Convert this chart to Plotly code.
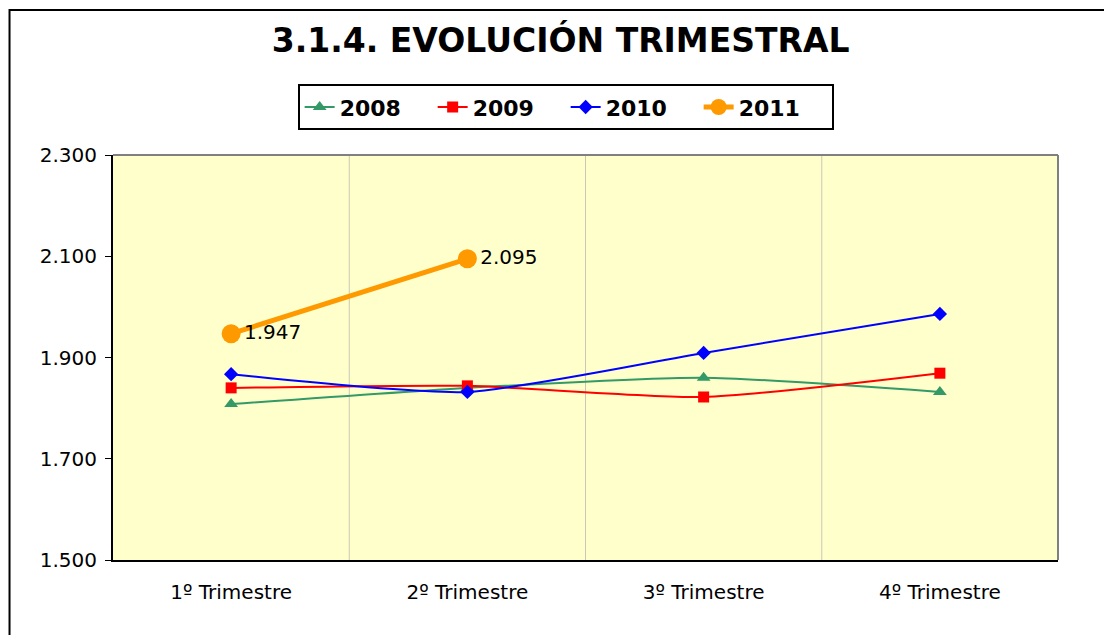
import plotly.graph_objects as go

categories = ["1º Trimestre", "2º Trimestre", "3º Trimestre", "4º Trimestre"]
v2008 = [1808, 1840, 1860, 1832]
v2009 = [1840, 1844, 1822, 1869]
v2010 = [1867, 1832, 1909, 1986]
v2011 = [1947, 2095]
y_ticks = [1500, 1700, 1900, 2100, 2300]

FONT = "DejaVu Sans, Verdana, sans-serif"

fig = go.Figure()
fig.add_trace(go.Scatter(
    x=categories, y=v2008, name="2008", mode="lines+markers",
    line=dict(color="#339966", width=2, shape="spline", smoothing=0.6),
    marker=dict(symbol="triangle-up", size=12, color="#339966")))
fig.add_trace(go.Scatter(
    x=categories, y=v2009, name="2009", mode="lines+markers",
    line=dict(color="#FF0000", width=2, shape="spline", smoothing=0.6),
    marker=dict(symbol="square", size=11, color="#FF0000")))
fig.add_trace(go.Scatter(
    x=categories, y=v2010, name="2010", mode="lines+markers",
    line=dict(color="#0000FF", width=2, shape="spline", smoothing=0.6),
    marker=dict(symbol="diamond", size=11, color="#0000FF")))
fig.add_trace(go.Scatter(
    x=categories[:len(v2011)], y=v2011, name="2011", mode="lines+markers+text",
    line=dict(color="#FF9900", width=5),
    marker=dict(symbol="circle", size=19, color="#FF9900"),
    text=v2011, texttemplate="%{y:,.0f}", textposition="middle right",
    textfont=dict(family=FONT, size=20, color="#000000")))

shapes = []
for b in [0.5, 1.5, 2.5]:
    shapes.append(dict(type="line", xref="x", yref="paper", x0=b, x1=b, y0=0, y1=1,
                       line=dict(color="#C8C8B4", width=1), layer="below"))
shapes.append(dict(type="line", xref="paper", yref="paper", x0=0, x1=1, y0=1, y1=1,
                   line=dict(color="#808080", width=2)))
shapes.append(dict(type="line", xref="paper", yref="paper", x0=1, x1=1, y0=0, y1=1,
                   line=dict(color="#808080", width=2)))
shapes.append(dict(type="rect", xref="paper", yref="paper", x0=-0.1095, x1=1.08, y0=-0.25, y1=1.358,
                   line=dict(color="#000000", width=2)))

fig.update_layout(
    width=1112, height=635,
    margin=dict(l=105, r=62, t=147, b=83),
    paper_bgcolor="#FFFFFF", plot_bgcolor="#FFFFCC",
    separators=",.",
    font=dict(family=FONT, size=20, color="#000000"),
    title=dict(text="<b>3.1.4. EVOLUCIÓN TRIMESTRAL</b>", x=0.497, xanchor="center",
               y=0.9496, yanchor="middle", font=dict(family=FONT, size=33, color="#000000")),
    showlegend=True,
    legend=dict(orientation="h", x=0.479, xanchor="center", y=1.118, yanchor="middle",
                bgcolor="#FFFFFF", bordercolor="#000000", borderwidth=2,
                font=dict(family=FONT, size=22, color="#000000", weight="bold"),
                tracegroupgap=0, entrywidth=88, entrywidthmode="pixels"),
    xaxis=dict(type="category", range=[-0.5, 3.5], showgrid=False, zeroline=False,
               showline=True, linecolor="#000000", linewidth=2, ticks="",
               tickfont=dict(family=FONT, size=20, color="#000000"), ticklabelstandoff=13),
    yaxis=dict(range=[1500, 2300], tickvals=y_ticks, tickformat=",.0f", showgrid=False,
               zeroline=False, showline=True, linecolor="#000000", linewidth=2,
               ticks="outside", ticklen=6, tickcolor="#000000", ticklabelstandoff=4,
               tickfont=dict(family=FONT, size=20, color="#000000")),
    shapes=shapes,
)

fig.write_html("out.html")
